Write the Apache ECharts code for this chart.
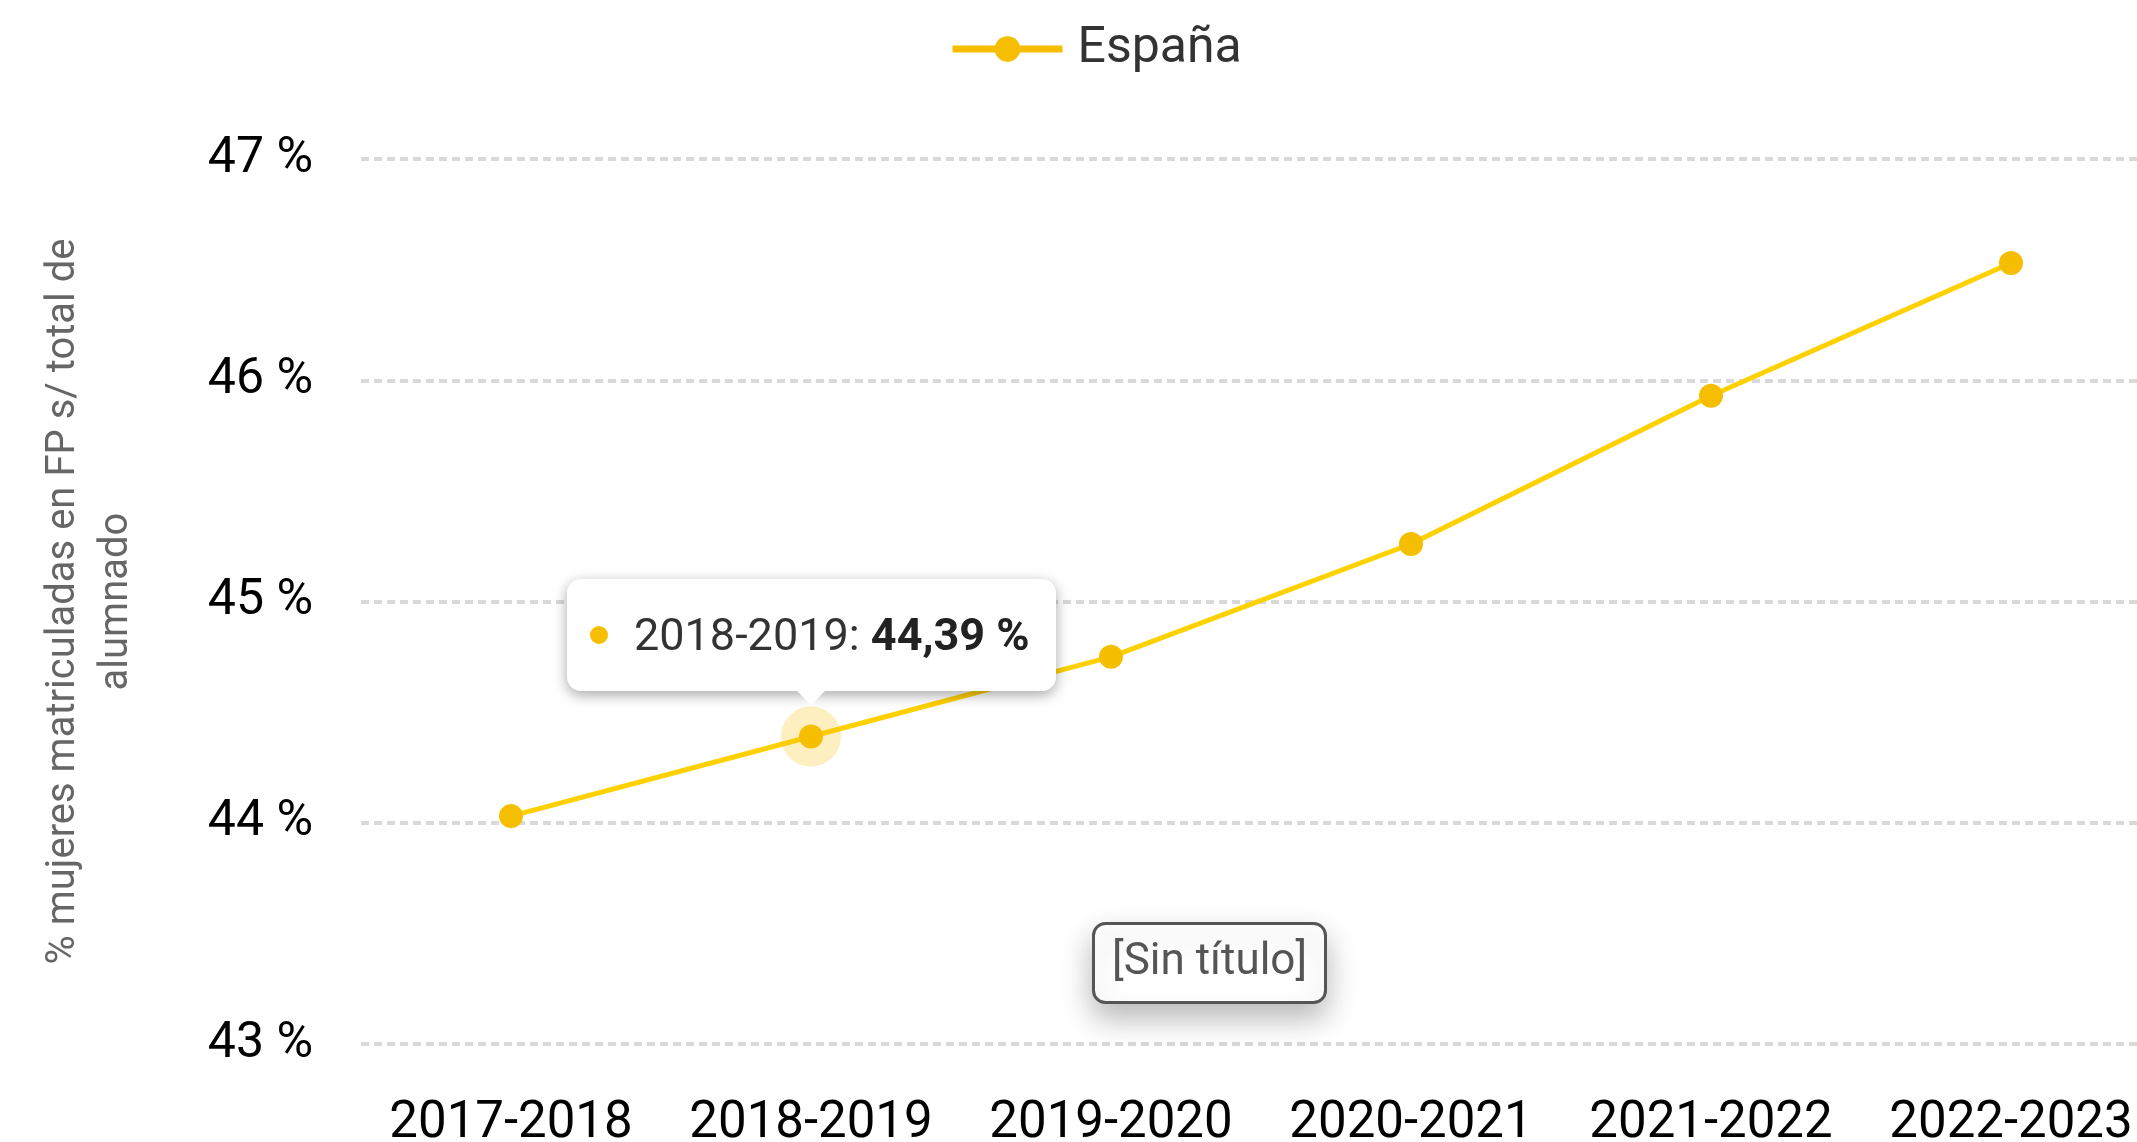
<!DOCTYPE html>
<html lang="es">
<head>
<meta charset="utf-8">
<title>% mujeres matriculadas en FP</title>
<script src="https://cdn.jsdelivr.net/npm/echarts@6/dist/echarts.min.js"></script>
<style>
  html, body { margin: 0; padding: 0; background: #fff; overflow: hidden; }
  #chart { width: 2137px; height: 1142px; }
</style>
</head>
<body>
<div id="chart"></div>
<script>
// Cursos académicos (eje X)
const cursos = ['2017-2018', '2018-2019', '2019-2020', '2020-2021', '2021-2022', '2022-2023'];
// % de mujeres matriculadas en FP sobre el total de alumnado, España
const espana = [44.03, 44.39, 44.75, 45.26, 45.93, 46.53];
// Escala del eje Y
const yMin = 43;
const yMax = 47;
const yStep = 1;
// Curso resaltado con su ficha
const cursoResaltado = 1;

const amarillo = '#F6BE00';
const fuente = 'Roboto, "Noto Sans", sans-serif';

const fmtPct = v => v.toFixed(2).replace('.', ',') + ' %';

const chart = echarts.init(document.getElementById('chart'), null, { renderer: 'canvas' });

chart.setOption({
  animation: false,
  backgroundColor: '#fff',
  textStyle: { fontFamily: fuente },
  title: {
    text: '[Sin título]',
    left: 1093,
    top: 923,
    padding: [18, 19, 18, 19],
    backgroundColor: '#fff',
    borderColor: '#555',
    borderWidth: 3,
    borderRadius: 12,
    shadowBlur: 30,
    shadowColor: 'rgba(0,0,0,0.28)',
    shadowOffsetY: 14,
    textStyle: { fontFamily: fuente, fontSize: 44, fontWeight: 'normal', color: '#555' }
  },
  legend: {
    left: 949,
    top: 24,
    padding: 0,
    itemWidth: 110,
    itemHeight: 32,
    lineStyle: { width: 7 },
    textStyle: { fontFamily: fuente, fontSize: 50, color: '#333', padding: [0, 0, 0, 10] },
    data: ['España']
  },
  tooltip: {
    trigger: 'item',
    triggerOn: 'none',
    alwaysShowContent: true,
    position: 'top',
    backgroundColor: '#fff',
    borderColor: '#fff',
    borderWidth: 9,
    padding: [13, 17, 13, 14],
    extraCssText: 'border-radius:14px;box-shadow:0 4px 14px rgba(0,0,0,0.35);margin-top:-12px;',
    textStyle: { fontFamily: fuente, fontSize: 45, color: '#333' },
    formatter: p =>
      '<span style="display:inline-block;width:18px;height:18px;border-radius:50%;background:' + amarillo +
      ';margin-right:26px;vertical-align:middle;position:relative;top:-3px"></span>' +
      p.name + ': <b style="color:#222">' + fmtPct(p.value) + '</b>'
  },
  grid: { left: 361, right: -24, top: 159, bottom: 98, containLabel: false, outerBoundsMode: 'none' },
  xAxis: {
    type: 'category',
    data: cursos,
    boundaryGap: true,
    axisLine: { show: false },
    axisTick: { show: false },
    axisLabel: { margin: 55, fontSize: 51, color: '#000', fontFamily: fuente, interval: 0 }
  },
  yAxis: {
    type: 'value',
    min: yMin,
    max: yMax,
    interval: yStep,
    name: '% mujeres matriculadas en FP s/ total de\nalumnado',
    nameLocation: 'middle',
    nameRotate: 90,
    nameGap: 218,
    nameTextStyle: { fontFamily: fuente, fontSize: 40, lineHeight: 53, color: '#666', align: 'center' },
    axisLine: { show: false },
    axisTick: { show: false },
    axisLabel: { margin: 48, fontSize: 50, color: '#000', fontFamily: fuente, formatter: '{value} %' },
    splitLine: { lineStyle: { color: '#d9d9d9', width: 4, type: [8, 5] } }
  },
  series: [{
    name: 'España',
    type: 'line',
    data: espana,
    color: amarillo,
    symbol: 'circle',
    symbolSize: 24,
    showSymbol: true,
    lineStyle: { width: 5, color: amarillo },
    itemStyle: { color: amarillo },
    emphasis: {
      scale: false,
      lineStyle: { width: 5 },
      itemStyle: { color: amarillo, borderColor: 'rgba(246,190,0,0.25)', borderWidth: 36 }
    }
  }]
});

chart.dispatchAction({ type: 'highlight', seriesIndex: 0, dataIndex: cursoResaltado });
chart.dispatchAction({ type: 'showTip', seriesIndex: 0, dataIndex: cursoResaltado });
</script>
</body>
</html>
